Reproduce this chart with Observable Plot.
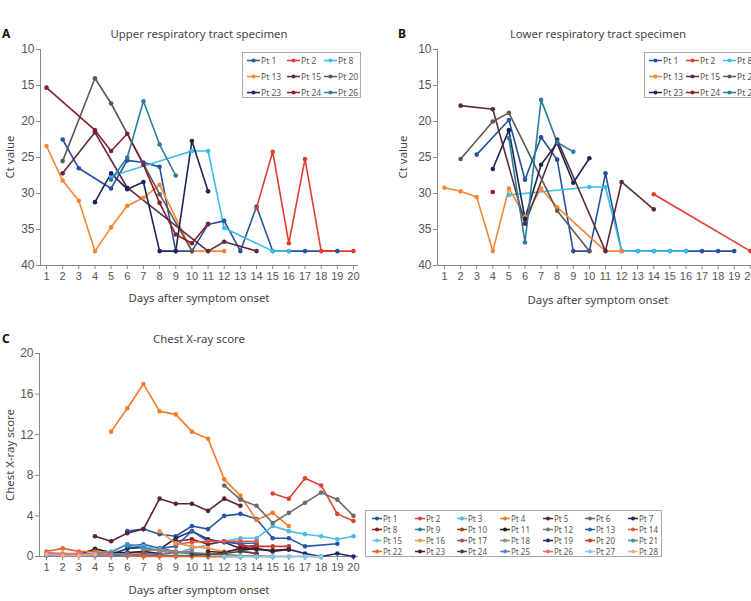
<!DOCTYPE html>
<html><head><meta charset="utf-8">
<script src="https://cdn.jsdelivr.net/npm/d3@7"></script>
<script src="https://cdn.jsdelivr.net/npm/@observablehq/plot@0.6"></script>
<style>
body{margin:0;background:#fff;}
#root{position:relative;width:751px;height:601px;overflow:hidden;font-family:"Noto Sans",sans-serif;color:#444;background:#fff}
.t{position:absolute;white-space:nowrap;font-size:11.4px;color:#444;transform:translate(-50%,-50%)}
.rot{transform:translate(-50%,-50%) rotate(-90deg)}
.lab{position:absolute;font-weight:bold;font-size:12px;color:#111;transform:translateY(-50%)}
.leg{position:absolute;border:1px solid #a8a8a8;background:#fff;box-sizing:border-box}
.item{position:absolute;color:#555;display:flex;align-items:center;white-space:nowrap;transform:translateY(-50%)}
.item svg{margin-right:1px}
</style></head><body><div id="root"></div>
<script>
const _ = null;
// Days after symptom onset (x categories / tick labels)
const days = [1,2,3,4,5,6,7,8,9,10,11,12,13,14,15,16,17,18,19,20];
const ctTicks = [10,15,20,25,30,35,40];
const cxrTicks = [0,4,8,12,16,20];

// Panels A and B patients
const ctPatients = ["Pt 1","Pt 2","Pt 8","Pt 13","Pt 15","Pt 20","Pt 23","Pt 24","Pt 26"];
const ctColors = ["#24509e","#e23c2c","#3dbbe9","#f58634","#5c2a3e","#595959","#1e2454","#8a1c2a","#2a7d9c"];

// Panel A: upper respiratory tract Ct values (days 1..20)
const upperCt = [
  [_,22.5,26.5,_,29.3,25.4,25.7,26.3,38,38,34.3,33.8,38,31.8,38,38,38,_,38,_],   // Pt 1
  [_,_,_,_,_,_,_,_,_,_,_,_,_,32.0,24.2,36.9,25.2,38,_,38],                      // Pt 2
  [_,_,_,_,27.6,_,_,_,_,24.1,24.1,34.8,_,_,38,38,_,_,_,_],                      // Pt 8
  [23.4,28.2,31.0,38,34.7,31.7,30.6,28.8,_,38,38,38,_,_,_,_,_,_,_,_],          // Pt 13
  [_,27.2,_,21.5,_,29.2,_,_,_,_,38,36.7,_,38,_,_,_,_,_,_],                      // Pt 15
  [_,25.5,_,14.0,17.5,_,_,30.1,_,38,_,_,_,_,_,_,_,_,_,_],                       // Pt 20
  [_,_,_,31.2,27.2,29.4,28.4,38,38,22.7,29.7,_,_,_,_,_,_,_,_,_],               // Pt 23
  [15.3,_,_,21.2,24.1,21.7,26.0,31.3,35.7,36.9,34.2,_,_,_,_,_,_,_,_,_],        // Pt 24
  [_,_,_,_,28.1,25.0,17.2,23.2,27.5,_,_,_,_,_,_,_,_,_,_,_]                      // Pt 26
];

// Panel B: lower respiratory tract Ct values (days 1..20)
const lowerCt = [
  [_,_,24.6,_,19.8,28.1,22.2,25.3,38,38,27.2,38,38,38,38,38,38,38,38,_],        // Pt 1
  [_,_,_,_,_,_,_,_,_,_,_,_,_,30.1,_,_,_,_,_,38],                                // Pt 2
  [_,_,_,_,30.2,_,_,_,_,29.1,29.1,38,38,38,38,38,_,_,_,_],                      // Pt 8
  [29.2,29.7,30.5,38,29.3,33.2,29.3,31.9,_,_,38,38,_,_,_,_,_,_,_,_],           // Pt 13
  [_,17.8,_,18.3,_,34.2,_,22.5,_,_,38,28.4,_,32.2,_,_,_,_,_,_],                // Pt 15
  [_,25.2,_,20.0,18.8,_,_,32.4,_,38,_,_,_,_,_,_,_,_,_,_],                       // Pt 20
  [_,_,_,26.6,21.2,33.5,26.0,23.0,28.5,25.1,_,_,_,_,_,_,_,_,_,_],              // Pt 23
  [_,_,_,29.8,_,_,_,_,_,_,_,_,_,_,_,_,_,_,_,_],                                 // Pt 24
  [_,_,_,_,22.3,36.8,17.0,22.9,24.2,_,_,_,_,_,_,_,_,_,_,_]                      // Pt 26
];

// Panel C patients
const cxrPatients = ["Pt 1","Pt 2","Pt 3","Pt 4","Pt 5","Pt 6","Pt 7","Pt 8","Pt 9","Pt 10","Pt 11","Pt 12","Pt 13","Pt 14",
  "Pt 15","Pt 16","Pt 17","Pt 18","Pt 19","Pt 20","Pt 21","Pt 22","Pt 23","Pt 24","Pt 25","Pt 26","Pt 27","Pt 28"];
const cxrColors = ["#2856a6","#e2432f","#47bde8","#f47b2a","#5e2236","#6b6b6b","#232a5c","#8a1c2c","#2a7f99","#9c4a1e","#222222","#7a7a7a","#3461b0","#e8553d",
  "#5cc6ee","#f8954b","#9a4b72","#8c8c8c","#1d2a7a","#c53a2c","#3a91b8","#dc6a2a","#4b1a2c","#454545","#5a7ecb","#f0697a","#7dcff0","#f5a98a"];

// Panel C: chest X-ray scores (days 1..20)
const cxrScore = [
  [_,_,_,_,_,2.5,2.7,2.2,2.0,3.0,2.7,4.0,4.2,3.7,1.8,1.8,1.0,_,1.25,_],     // Pt 1
  [_,_,_,_,_,_,_,_,_,_,_,_,_,_,6.2,5.7,7.7,7.0,4.2,3.5],                     // Pt 2
  [_,_,_,_,_,_,_,_,0.3,0.8,_,1.5,1.8,1.8,3.0,2.5,2.2,2.0,1.7,2.0],          // Pt 3
  [_,_,_,_,12.3,14.6,17.0,14.3,14.0,12.3,11.6,7.6,6.0,3.6,4.3,3.0,_,_,_,_], // Pt 4
  [_,_,_,2.0,1.5,2.3,2.7,5.7,5.2,5.2,4.5,5.7,5.0,_,_,_,_,_,_,_],            // Pt 5
  [_,_,_,_,_,_,_,_,_,_,_,7.0,5.6,5.0,3.3,4.3,5.3,6.3,5.6,4.0],              // Pt 6
  [_,_,_,_,0.2,0.8,0.9,0.7,1.8,2.5,1.7,1.4,0.8,1.1,_,_,_,_,_,_],            // Pt 7
  [_,_,_,_,_,_,_,_,1.5,1.7,1.2,1.5,1.2,0.8,_,_,_,_,_,_],                    // Pt 8
  [0.1,0.1,0.1,0.1,0.1,0.1,0.1,0.1,0.1,0.1,0,0,0,0,0,_,_,_,_,_],            // Pt 9
  [_,_,_,_,_,0.3,0.5,0.8,0.5,0.3,0.2,_,_,_,_,_,_,_,_,_],                    // Pt 10
  [_,_,0.2,0.75,0.4,0.4,0.5,0.3,_,_,_,_,_,_,_,_,_,_,_,_],                   // Pt 11
  [_,_,_,_,_,_,_,0.5,_,0.3,_,0.2,_,0,_,_,_,_,_,_],                          // Pt 12
  [_,_,_,_,_,1.0,1.2,0.8,1.0,2.5,1.5,1.4,1.3,1.3,_,_,_,_,_,_],              // Pt 13
  [_,_,_,_,_,_,_,_,1.2,1.4,1.5,1.5,1.5,1.5,_,_,_,_,_,_],                    // Pt 14
  [_,_,_,0.3,0.5,1.2,1.0,0.7,0.4,_,_,_,_,_,_,_,_,_,_,_],                    // Pt 15
  [_,_,_,_,_,_,_,2.5,1.3,1.0,0.8,0.5,0.6,0.3,_,_,_,_,_,_],                  // Pt 16
  [_,_,_,_,_,0.1,0.3,0.2,0.4,0.5,_,_,_,_,_,_,_,_,_,_],                      // Pt 17
  [_,_,_,_,_,_,0.7,0.6,0.5,0.4,0.3,_,_,_,_,_,_,_,_,_],                      // Pt 18
  [_,_,_,_,_,_,_,_,_,_,_,_,0.6,0.8,0.5,0.7,0.3,0,0.3,0],                    // Pt 19
  [_,_,_,_,_,_,_,_,_,_,_,_,1.0,1.0,1.0,1.0,_,_,_,_],                        // Pt 20
  [0.2,0.2,0.3,0.3,0.4,1.2,0.9,_,_,_,_,_,_,_,_,_,_,_,_,_],                  // Pt 21
  [0.5,0.8,0.5,0.5,0.3,0.1,0,0,0,0,0,0,0,0.1,0,0,0,0,_,_],                  // Pt 22
  [_,_,_,_,_,_,_,_,_,_,0.5,0.4,0.8,0.7,0.6,0.7,_,_,_,_],                    // Pt 23
  [_,_,_,_,_,_,_,_,_,0.2,0.2,0.3,0.5,0.3,_,_,_,_,_,_],                      // Pt 24
  [0.3,0.2,0.2,0.1,0.2,0.3,_,_,_,_,_,_,_,_,_,_,_,_,_,_],                    // Pt 25
  [0.4,0.3,0.3,0.2,0.1,_,_,_,_,_,_,_,_,_,_,_,_,_,_,_],                      // Pt 26
  [_,_,_,_,_,_,_,_,_,_,_,0,0,0,0,0,0,0,_,_],                                // Pt 27
  [0.2,0.1,0.1,0.2,_,_,_,_,_,_,_,_,_,_,_,_,_,_,_,_]                         // Pt 28
];

const root = document.getElementById("root");

function toRows(patients, matrix) {
  const rows = [];
  patients.forEach((p, i) => matrix[i].forEach((v, j) => { if (v != null) rows.push({pt: p, day: days[j], v}); }));
  return rows;
}

function panel(o) {
  const rows = toRows(o.patients, o.matrix);
  const yBase = o.reverse ? o.yDomain[1] : o.yDomain[0];
  const svg = Plot.plot({
    width: o.width, height: o.height,
    marginLeft: o.mL, marginRight: o.mR, marginTop: o.mT, marginBottom: o.mB,
    style: {fontFamily: "'Liberation Sans', Arial, sans-serif", color: "#555", background: "transparent", overflow: "visible"},
    x: {domain: o.xDomain},
    y: {domain: o.yDomain, reverse: o.reverse},
    color: {domain: o.patients, range: o.colors},
    marks: [
      Plot.axisX({ticks: days, tickFormat: d => d, tickSize: 4, tickPadding: 3, fontSize: 11, label: null, stroke: "#888"}),
      Plot.axisY({ticks: o.yTicks, tickSize: 4, tickPadding: 2, fontSize: 12, label: null, stroke: "#888"}),
      Plot.ruleX([o.xDomain[0]], {stroke: "#888"}),
      Plot.ruleY([yBase], {stroke: "#888"}),
      Plot.line(rows, {x: "day", y: "v", z: "pt", stroke: "pt", strokeWidth: 1.6}),
      Plot.dot(rows, {x: "day", y: "v", fill: "pt", r: 2.3})
    ]
  });
  svg.style.position = "absolute";
  svg.style.left = o.left + "px";
  svg.style.top = o.top + "px";
  svg.style.fontFamily = "'Liberation Sans', Arial, sans-serif";
  root.appendChild(svg);
}

function text(str, x, y, cls = "t", size) {
  const d = document.createElement("div");
  d.className = cls;
  d.textContent = str;
  d.style.left = x + "px";
  d.style.top = y + "px";
  if (size) d.style.fontSize = size + "px";
  root.appendChild(d);
}

function legend(patients, colors, box, cols, colX, rowY, fontSize, lineLen) {
  const div = document.createElement("div");
  div.className = "leg";
  Object.assign(div.style, {left: box[0] + "px", top: box[1] + "px", width: box[2] + "px", height: box[3] + "px"});
  patients.forEach((p, i) => {
    const it = document.createElement("div");
    it.className = "item";
    it.style.left = colX[i % cols] + "px";
    it.style.top = rowY[Math.floor(i / cols)] + "px";
    it.style.fontSize = fontSize + "px";
    it.innerHTML = `<svg width="${lineLen}" height="6"><line x1="0" y1="3" x2="${lineLen}" y2="3" stroke="${colors[i]}" stroke-width="1.6"/><circle cx="${lineLen/2}" cy="3" r="2" fill="${colors[i]}"/></svg><span>${p}</span>`;
    div.appendChild(it);
  });
  root.appendChild(div);
}

// Panel A
panel({patients: ctPatients, colors: ctColors, matrix: upperCt, yDomain: [10, 40], reverse: true, yTicks: ctTicks,
  left: 0, top: 0, width: 375, height: 300, mL: 40, mR: 17, mT: 49, mB: 35, xDomain: [0.63, 20.31]});
// Panel B
panel({patients: ctPatients, colors: ctColors, matrix: lowerCt, yDomain: [10, 40], reverse: true, yTicks: ctTicks,
  left: 375, top: 0, width: 400, height: 300, mL: 62, mR: 20, mT: 49, mB: 35, xDomain: [0.565, 20.32]});
// Panel C
panel({patients: cxrPatients, colors: cxrColors, matrix: cxrScore, yDomain: [0, 20], reverse: false, yTicks: cxrTicks,
  left: 0, top: 290, width: 375, height: 300, mL: 39, mR: 17, mT: 63, mB: 34, xDomain: [0.567, 20.31]});

// Titles and labels
text("A", 2, 33, "lab");
text("Upper respiratory tract specimen", 199, 33);
text("B", 398, 33, "lab");
text("Lower respiratory tract specimen", 598, 33);
text("Ct value", 9, 157, "t rot");
text("Ct value", 402, 157, "t rot");
text("Days after symptom onset", 199, 297);
text("Days after symptom onset", 598, 299);
text("C", 2, 338, "lab");
text("Chest X-ray score", 199, 338);
text("Chest X-ray score", 9, 455, "t rot");
text("Days after symptom onset", 199, 589);

// Legends
legend(ctPatients, ctColors, [242, 52, 119, 46], 3, [4, 44, 81], [7, 23, 39], 8.5, 13);
legend(ctPatients, ctColors, [644, 52, 119, 46], 3, [4, 41, 78], [7, 23, 39], 8.5, 13);
legend(cxrPatients, cxrColors, [365, 510, 297, 47], 7, [6, 49, 91, 134, 177, 219, 262], [7, 18, 29, 40], 8, 10);
</script></body></html>
